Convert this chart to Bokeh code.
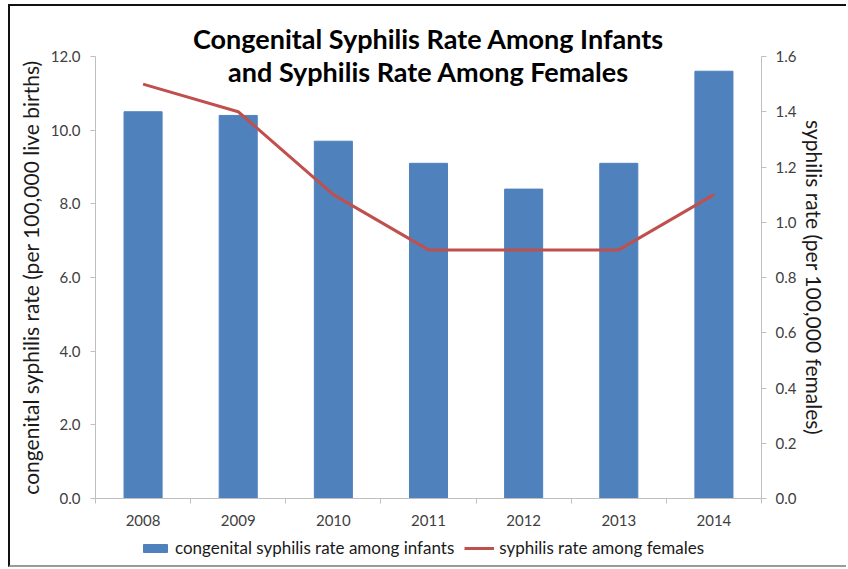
from bokeh.plotting import figure
from bokeh.layouts import column
from bokeh.models import (Range1d, LinearAxis, FixedTicker, Legend, LegendItem,
                          Label, Title, NumeralTickFormatter, ColumnDataSource)
from bokeh.embed import file_html
from bokeh.resources import INLINE

years = ["2008", "2009", "2010", "2011", "2012", "2013", "2014"]
infant_rate = [10.5, 10.4, 9.7, 9.1, 8.4, 9.1, 11.6]
female_rate = [1.5, 1.4, 1.1, 0.9, 0.9, 0.9, 1.1]
left_ticks = [0, 2, 4, 6, 8, 10, 12]
right_ticks = [0, 0.2, 0.4, 0.6, 0.8, 1.0, 1.2, 1.4, 1.6]
series_names = ["congenital syphilis rate among infants", "syphilis rate among females"]

idx = list(range(len(years)))
src = ColumnDataSource(dict(x=idx, infants=infant_rate, females=female_rate))

FONT = "Lato"
AX = "#bfbfbf"
TXT = "#404040"
BAR = "#4f81bd"
LINE = "#c0504d"

p = figure(frame_width=666, frame_height=442,
           min_border_left=85, min_border_right=85,
           min_border_top=50, min_border_bottom=34,
           x_range=Range1d(-0.5, len(years) - 0.5),
           y_range=Range1d(0, 12),
           output_backend="svg", toolbar_location=None,
           outline_line_color=None, background_fill_color="white")
p.extra_y_ranges = {"right": Range1d(0, 1.6)}
p.xgrid.visible = False
p.ygrid.visible = False

p.vbar(x="x", top="infants", width=0.4, source=src, fill_color=BAR, line_color=BAR)
p.line(x="x", y="females", source=src, y_range_name="right", line_color=LINE, line_width=3)

# x axis
xa = p.xaxis[0]
xa.ticker = FixedTicker(ticks=idx, minor_ticks=[i - 0.5 for i in range(len(years) + 1)])
xa.major_label_overrides = {i: y for i, y in zip(idx, years)}
xa.major_tick_line_color = None
xa.major_tick_out = 0
xa.major_tick_in = 0
xa.minor_tick_out = 5
xa.minor_tick_in = 0
xa.minor_tick_line_color = AX
xa.axis_line_color = AX
xa.major_label_standoff = 11
xa.major_label_text_font = FONT
xa.major_label_text_font_size = "15px"
xa.major_label_text_color = TXT

# left axis
ya = p.yaxis[0]
ya.ticker = FixedTicker(ticks=left_ticks)
ya.formatter = NumeralTickFormatter(format="0.0")
ya.axis_label = "congenital syphilis rate (per 100,000 live births)"
ya.axis_label_text_font = FONT
ya.axis_label_text_font_style = "normal"
ya.axis_label_text_font_size = "21px"
ya.axis_label_text_color = "#1a1a1a"
ya.axis_label_standoff = 5
ya.axis_line_color = AX
ya.major_tick_line_color = AX
ya.major_tick_out = 5
ya.major_tick_in = 0
ya.minor_tick_line_color = None
ya.major_label_text_font = FONT
ya.major_label_text_font_size = "15px"
ya.major_label_text_color = TXT
ya.major_label_standoff = 10

# right axis
ra = LinearAxis(y_range_name="right", ticker=FixedTicker(ticks=right_ticks),
                formatter=NumeralTickFormatter(format="0.0"))
ra.axis_label = "syphilis rate (per 100,000 females)"
ra.axis_label_text_font = FONT
ra.axis_label_text_font_style = "normal"
ra.axis_label_text_font_size = "21px"
ra.axis_label_text_color = "#1a1a1a"
ra.axis_label_standoff = 3
ra.axis_line_color = AX
ra.major_tick_line_color = AX
ra.major_tick_out = 5
ra.major_tick_in = 0
ra.minor_tick_line_color = None
ra.major_label_text_font = FONT
ra.major_label_text_font_size = "15px"
ra.major_label_text_color = TXT
ra.major_label_standoff = 9
p.add_layout(ra, "right")

# title: first line above the frame, second line inside the frame top
p.add_layout(Title(text="Congenital Syphilis Rate Among Infants", align="center",
                   text_font=FONT, text_font_style="bold", text_font_size="27px",
                   text_color="black", standoff=3), "above")
p.add_layout(Label(x=333, y=427, x_units="screen", y_units="screen",
                   text="and Syphilis Rate Among Females",
                   text_font=FONT, text_font_style="bold", text_font_size="27px",
                   text_align="center", text_baseline="middle", text_color="black"))

# legend strip below the chart (its glyphs fall outside its ranges, only the legend shows)
w = p.frame_width + p.min_border_left + p.min_border_right
p2 = figure(width=w, height=33, x_range=Range1d(-0.5, len(years) - 0.5),
            y_range=Range1d(100, 101),
            x_axis_location=None, y_axis_location=None,
            min_border_left=0, min_border_right=0, min_border_top=0, min_border_bottom=0,
            output_backend="svg", toolbar_location=None, outline_line_color=None)
p2.grid.visible = False
lb = p2.vbar(x="x", top="infants", width=0.4, source=src, fill_color=BAR, line_color=BAR)
ll = p2.line(x="x", y="females", source=src, line_color=LINE, line_width=3)
legend = Legend(items=[LegendItem(label=series_names[0], renderers=[lb]),
                       LegendItem(label=series_names[1], renderers=[ll])],
                location=(45, 7), orientation="horizontal",
                glyph_width=30, glyph_height=10, label_height=14,
                label_standoff=5, spacing=10, padding=2, margin=0,
                label_text_font=FONT, label_text_font_size="17px", label_text_color="#1a1a1a",
                border_line_color=None, background_fill_alpha=0)
p2.add_layout(legend, "center")

layout = column(p, p2, spacing=0,
                styles={"margin-left": "8px", "margin-top": "4px",
                        "border-left": "2px solid #111111",
                        "border-top": "2px solid #111111",
                        "border-bottom": "2px solid #9a9a9a"})
open("out.html", "w").write(file_html(layout, INLINE))
